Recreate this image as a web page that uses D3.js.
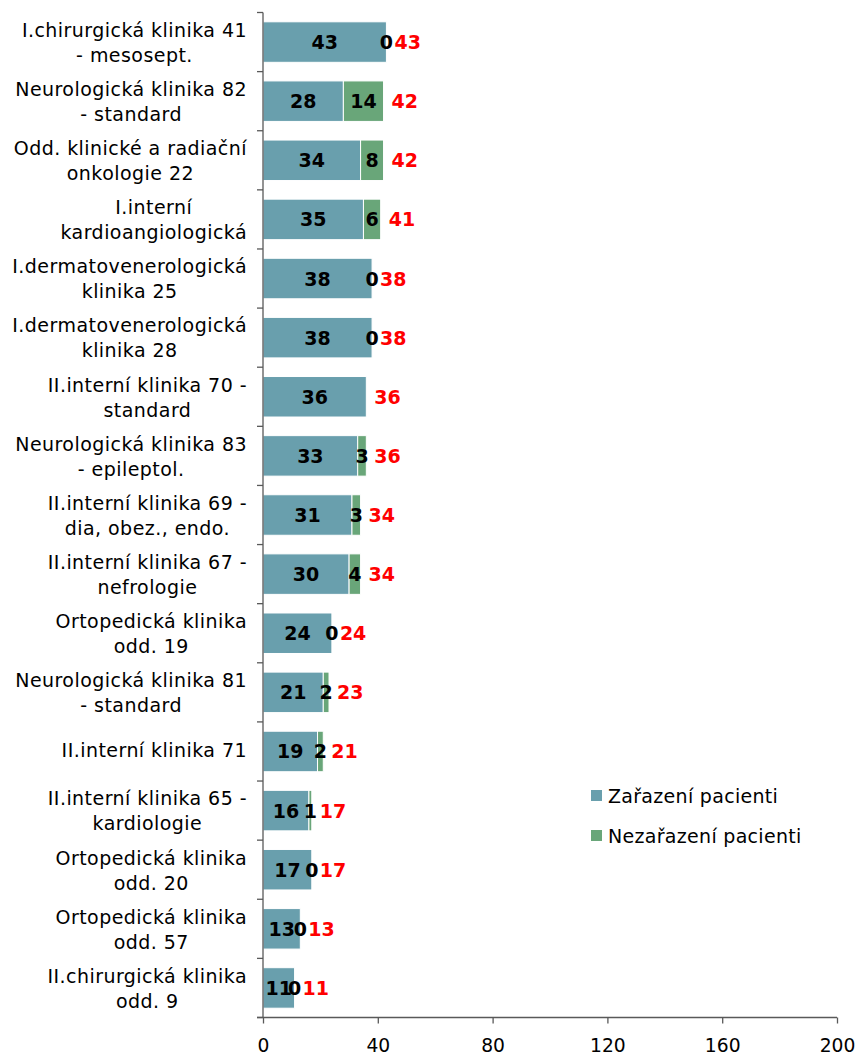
<!DOCTYPE html>
<html>
<head>
<meta charset="utf-8">
<script src="https://cdn.jsdelivr.net/npm/d3@7"></script>
<style>
  body { margin: 0; background: #fff; }
  svg text { font-family: "DejaVu Sans", Verdana, sans-serif; }
</style>
</head>
<body>
<svg id="chart" width="859" height="1056"></svg>
<script>
// data
const categories = [
  ["I.chirurgická klinika 41", "- mesosept."],
  ["Neurologická klinika 82", "- standard"],
  ["Odd. klinické a radiační", "onkologie 22"],
  ["I.interní", "kardioangiologická"],
  ["I.dermatovenerologická", "klinika 25"],
  ["I.dermatovenerologická", "klinika 28"],
  ["II.interní klinika 70 -", "standard"],
  ["Neurologická klinika 83", "- epileptol."],
  ["II.interní klinika 69 -", "dia, obez., endo."],
  ["II.interní klinika 67 -", "nefrologie"],
  ["Ortopedická klinika", "odd. 19"],
  ["Neurologická klinika 81", "- standard"],
  ["II.interní klinika 71"],
  ["II.interní klinika 65 -", "kardiologie"],
  ["Ortopedická klinika", "odd. 20"],
  ["Ortopedická klinika", "odd. 57"],
  ["II.chirurgická klinika", "odd. 9"]
];
const zarazeni   = [43, 28, 34, 35, 38, 38, 36, 33, 31, 30, 24, 21, 19, 16, 17, 13, 11];
const nezarazeni = [0, 14, 8, 6, 0, 0, null, 3, 3, 4, 0, 2, 2, 1, 0, 0, 0];
const seriesNames = ["Zařazení pacienti", "Nezařazení pacienti"];
const colors = ["#699fad", "#69a679"];
const xTicks = [0, 40, 80, 120, 160, 200];

const rows = categories.map((c, i) => ({
  id: i,
  lines: c,
  z: zarazeni[i],
  n: nezarazeni[i] == null ? 0 : nezarazeni[i],
  nRaw: nezarazeni[i]
}));

const svg = d3.select("#chart");
const mLeft = 263, mRight = 837, mTop = 12.5, mBottom = 1017.5;

const x = d3.scaleLinear().domain([0, 200]).range([mLeft, mRight]);
const y = d3.scaleBand().domain(rows.map(d => d.id)).range([mTop, mBottom]).paddingInner(0.315).paddingOuter(0.1575);
const yb = d3.scaleBand().domain(rows.map(d => d.id)).range([mTop, mBottom]);

const stacked = d3.stack().keys(["z", "n"])(rows);

// bars
svg.append("g").selectAll("g")
  .data(stacked)
  .join("g")
  .attr("fill", (d, i) => colors[i])
  .selectAll("rect")
  .data(d => d.filter(s => s[1] - s[0] > 0))
  .join("rect")
  .attr("x", d => x(d[0]))
  .attr("y", d => y(d.data.id))
  .attr("width", d => x(d[1]) - x(d[0]))
  .attr("height", y.bandwidth())
  .attr("stroke", "#fff")
  .attr("stroke-width", 1);

// segment labels
const labels = svg.append("g")
  .attr("font-size", 19)
  .attr("font-weight", "bold")
  .attr("text-anchor", "middle");

stacked.forEach((layer, li) => {
  layer.forEach(s => {
    const v = li === 0 ? s.data.z : s.data.nRaw;
    if (v == null) return;
    labels.append("text")
      .attr("x", x((s[0] + s[1]) / 2))
      .attr("y", yb(s.data.id) + yb.bandwidth() / 2 + 7)
      .attr("fill", "#000")
      .text(v);
  });
});

// totals in red
svg.append("g").selectAll("text")
  .data(rows)
  .join("text")
  .attr("x", d => x(d.z + d.n) + 8)
  .attr("y", d => yb(d.id) + yb.bandwidth() / 2 + 7)
  .attr("font-size", 19)
  .attr("font-weight", "bold")
  .attr("fill", "#ff0000")
  .text(d => d.z + d.n);

// y axis
const axisColor = "#595959";
svg.append("line")
  .attr("x1", mLeft).attr("x2", mLeft)
  .attr("y1", mTop).attr("y2", mBottom)
  .attr("stroke", axisColor).attr("stroke-width", 1.3);
svg.append("g").selectAll("line")
  .data(d3.range(rows.length + 1))
  .join("line")
  .attr("x1", mLeft - 6).attr("x2", mLeft)
  .attr("y1", i => mTop + i * yb.step())
  .attr("y2", i => mTop + i * yb.step())
  .attr("stroke", axisColor).attr("stroke-width", 1.3);

// category labels: block right-aligned, lines centered
const catG = svg.append("g").attr("font-size", 19).attr("letter-spacing", 0.45).attr("fill", "#000");
rows.forEach(d => {
  const cy = yb(d.id) + yb.bandwidth() / 2;
  const g = catG.append("g");
  const n = d.lines.length;
  const ts = d.lines.map((line, k) => g.append("text")
    .attr("y", n === 1 ? cy + 6 : cy + 7.3 + (k - 0.5) * 25)
    .text(line));
  const maxW = d3.max(ts, t => t.node().getComputedTextLength());
  const cx = 247 - maxW / 2;
  ts.forEach(t => t.attr("x", cx).attr("text-anchor", "middle"));
});

// x axis
const xAxis = svg.append("g")
  .attr("transform", `translate(0,${mBottom})`)
  .call(d3.axisBottom(x).tickValues(xTicks).tickSize(6).tickPadding(15).tickSizeOuter(0));
xAxis.select(".domain").attr("stroke", axisColor).attr("stroke-width", 1.3)
  .attr("d", `M${mLeft - 6},0H${mRight}`);
xAxis.selectAll(".tick line").attr("stroke", axisColor).attr("stroke-width", 1.3);
xAxis.selectAll(".tick text")
  .attr("font-size", 18.7)
  .attr("font-family", "DejaVu Sans, Verdana, sans-serif")
  .attr("fill", "#000");

// legend
const legend = svg.append("g").selectAll("g")
  .data(seriesNames)
  .join("g")
  .attr("transform", (d, i) => `translate(591,${790 + i * 40})`);
legend.append("rect")
  .attr("width", 11).attr("height", 11)
  .attr("fill", (d, i) => colors[i]);
legend.append("text")
  .attr("x", 17).attr("y", 13)
  .attr("font-size", 19)
  .attr("letter-spacing", 0.3)
  .attr("fill", "#000")
  .text(d => d);
</script>
</body>
</html>
